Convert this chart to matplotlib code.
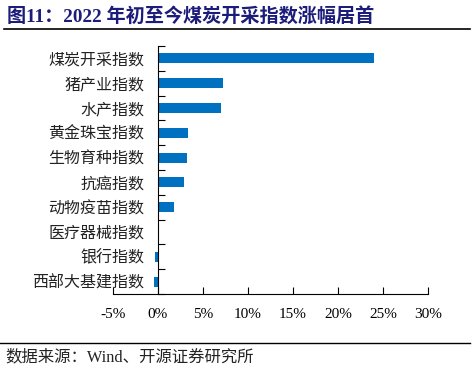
import numpy as np
import matplotlib.pyplot as plt
from matplotlib.lines import Line2D

# === Données ===
categories = ["煤炭开采指数", "猪产业指数", "水产指数", "黄金珠宝指数", "生物育种指数",
              "抗癌指数", "动物疫苗指数", "医疗器械指数", "银行指数", "西部大基建指数"]
values = [24.0, 7.2, 7.0, 3.3, 3.2, 2.9, 1.8, 0.02, -0.35, -0.5]
xticks = [-5, 0, 5, 10, 15, 20, 25, 30]

title = "图11：2022 年初至今煤炭开采指数涨幅居首"
source = "数据来源：Wind、开源证券研究所"

fonts = ["Liberation Serif", "Noto Sans CJK SC", "DejaVu Sans"]
plt.rcParams["font.family"] = fonts

fig = plt.figure(figsize=(4.75, 3.71), dpi=100)
ax = fig.add_axes([113 / 475, 1 - 294 / 371, 315 / 475, 248 / 371])

n = len(categories)
pos = np.arange(n)[::-1]
ax.barh(pos, values, height=0.4, color="#0070C0")

ax.set_xlim(-5, 30)
ax.set_ylim(-0.5, n - 0.5)

# axe vertical à 0
ax.spines["left"].set_position(("data", 0))
ax.spines["top"].set_visible(False)
ax.spines["right"].set_visible(False)

# ticks aux frontières, labels au centre
ax.set_yticks(np.arange(-0.5, n, 1.0))
ax.set_yticklabels([])
ax.tick_params(axis="y", which="major", direction="in", length=5)
ax.set_yticks(pos, minor=True)
ax.set_yticklabels(categories, minor=True, fontsize=11.5, color="#222222")
ax.tick_params(axis="y", which="minor", length=0, pad=10)

ax.set_xticks(xticks)
ax.set_xticklabels([f"{t}%" for t in xticks], fontsize=11)
ax.tick_params(axis="x", direction="in", length=5, pad=10)

# titre et source
fig.text(7 / 475, 1 - 16 / 371, title, fontsize=13.8, fontweight="bold",
         color="#1C1C7A", va="center", ha="left")
fig.add_artist(Line2D([4 / 475, 470 / 475], [1 - 29 / 371] * 2,
                      color="black", lw=1.2))
fig.add_artist(Line2D([0, 470 / 475], [1 - 343 / 371] * 2,
                      color="black", lw=1.0))
fig.text(5 / 475, 1 - 357 / 371, source, fontsize=11.8, color="#222222",
         va="center", ha="left")

fig.savefig("out.png", dpi=100)
